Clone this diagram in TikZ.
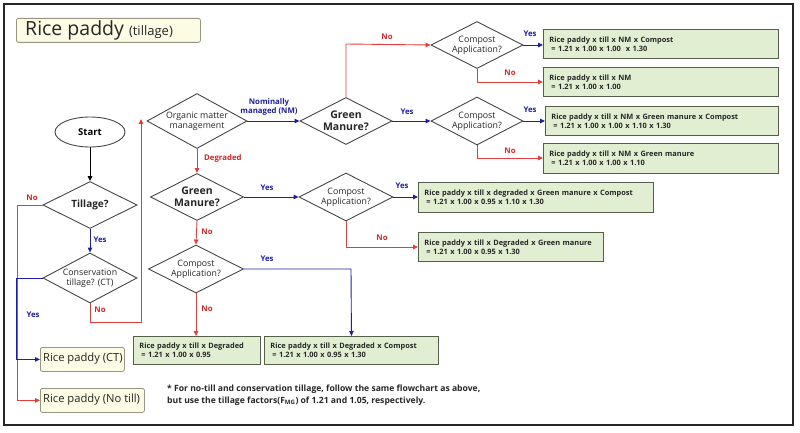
\documentclass[tikz,border=0pt]{standalone}
\usepackage{fontspec}
\setmainfont{Open Sans}
\usetikzlibrary{shapes.geometric,arrows.meta}
\definecolor{lred}{RGB}{226,60,60}
\definecolor{tred}{RGB}{215,35,35}
\definecolor{lblue}{RGB}{30,30,165}
\definecolor{gfill}{RGB}{225,238,210}
\definecolor{gdraw}{RGB}{85,95,75}
\definecolor{yfill}{RGB}{252,251,228}
\definecolor{ydraw}{RGB}{150,150,130}
\definecolor{ddraw}{RGB}{70,70,70}
\begin{document}
\begin{tikzpicture}[x=1pt,y=-1pt,
  dec/.style={diamond,draw=ddraw,line width=0.9pt,inner sep=0pt,aspect=2,align=center,
    font=\fontsize{8.8}{10}\selectfont,text=black!85},
  gmdec/.style={dec,font=\fontsize{10.5}{12.5}\selectfont\bfseries},
  resbox/.style={draw=gdraw,fill=gfill,line width=0.9pt,anchor=north west,align=left,
    inner xsep=6pt,inner ysep=0pt,font=\fontsize{7.4}{9}\selectfont\bfseries,text=black!85},
  ybox/.style={draw=ydraw,fill=yfill,line width=0.8pt,rounded corners=2pt,anchor=north west,
    inner sep=0pt,text=black!85},
  ra/.style={draw=lred,line width=0.9pt,-{Triangle[length=5pt,width=4.5pt]}},
  ba/.style={draw=lblue,line width=0.9pt,-{Triangle[length=5pt,width=4.5pt]}},
  ka/.style={draw=black,line width=0.9pt,-{Triangle[length=5pt,width=4.5pt]}},
  nol/.style={text=tred,font=\fontsize{7.8}{9}\selectfont\bfseries,inner sep=0pt},
  yesl/.style={text=lblue,font=\fontsize{7.8}{9}\selectfont\bfseries,inner sep=0pt}]
\useasboundingbox (0,0) rectangle (800,433);
\draw[line width=2pt,black!85] (4,4) rectangle (793,425);
% title
\node[ybox,minimum width=184pt,minimum height=24pt] (title) at (16,18) {};
\node[anchor=west,inner sep=0pt,text=black!85] (titletxt) at (25,30)
  {\fontsize{19.5}{22}\selectfont Rice paddy\ \fontsize{13}{15}\selectfont(tillage)};
% decisions
\node[draw=ddraw,line width=0.9pt,ellipse,minimum width=70pt,minimum height=30pt,inner sep=0pt,
  font=\fontsize{9.5}{10}\selectfont\bfseries] (start) at (90,132) {Start};
\node[dec,font=\fontsize{10}{11}\selectfont\bfseries,minimum width=94pt,minimum height=47pt] (till) at (90,205) {Tillage?};
\node[dec,minimum width=94pt,minimum height=50pt] (ct) at (90,278) {Conservation\\tillage? (CT)};
\node[dec,minimum width=100pt,minimum height=55pt] (omm) at (197,121) {Organic matter\\management};
\node[gmdec,minimum width=92pt,minimum height=47pt] (gm1) at (346,121) {Green\\Manure?};
\node[dec,minimum width=92pt,minimum height=47pt] (cp1) at (477,45) {Compost\\Application?};
\node[dec,minimum width=92pt,minimum height=48pt] (cp2) at (477,121) {Compost\\Application?};
\node[gmdec,minimum width=93pt,minimum height=47pt] (gm2) at (197,197) {Green\\Manure?};
\node[dec,minimum width=94pt,minimum height=48pt] (cp3) at (346,197) {Compost\\Application?};
\node[dec,minimum width=95pt,minimum height=48pt] (cp4) at (196,269) {Compost\\Application?};
% result boxes
\node[resbox,minimum width=235pt,minimum height=29pt,text width=223pt] (b1) at (543,29)
  {Rice paddy x till x NM x Compost\\\hspace*{2pt}= 1.21 x 1.00 x 1.00\ \ x 1.30};
\node[resbox,minimum width=235pt,minimum height=29pt,text width=223pt] (b2) at (543,67)
  {Rice paddy x till x NM\\\hspace*{2pt}= 1.21 x 1.00 x 1.00};
\node[resbox,minimum width=233pt,minimum height=29pt,text width=221pt] (b3) at (545,106)
  {Rice paddy x till x NM x Green manure x Compost\\\hspace*{2pt}= 1.21 x 1.00 x 1.00 x 1.10 x 1.30};
\node[resbox,minimum width=235pt,minimum height=30pt,text width=223pt] (b4) at (543,143)
  {Rice paddy x till x NM x Green manure\\\hspace*{2pt}= 1.21 x 1.00 x 1.00 x 1.10};
\node[resbox,minimum width=235pt,minimum height=30pt,text width=223pt] (b5) at (418,182)
  {Rice paddy x till x degraded x Green manure x Compost\\\hspace*{2pt}= 1.21 x 1.00 x 0.95 x 1.10 x 1.30};
\node[resbox,minimum width=185pt,minimum height=29pt,text width=173pt] (b6) at (418,232)
  {Rice paddy x till x Degraded x Green manure\\\hspace*{2pt}= 1.21 x 1.00 x 0.95 x 1.30};
\node[resbox,minimum width=127pt,minimum height=28pt,text width=115pt] (b7) at (133,336)
  {Rice paddy x till x Degraded\\\hspace*{2pt}= 1.21 x 1.00 x 0.95};
\node[resbox,minimum width=174pt,minimum height=28pt,text width=162pt] (b8) at (264,336)
  {Rice paddy x till x Degraded x Compost\\\hspace*{2pt}= 1.21 x 1.00 x 0.95 x 1.30};
\node[ybox,minimum width=84pt,minimum height=24pt] (rct) at (40,347) {};
\node[anchor=west,inner sep=0pt,font=\fontsize{11.2}{12}\selectfont,text=black!85] (rcttxt) at (43,359) {Rice paddy (CT)};
\node[ybox,minimum width=104pt,minimum height=24pt] (rnt) at (40,388) {};
\node[anchor=west,inner sep=0pt,font=\fontsize{11.2}{12}\selectfont,text=black!85] (rnttxt) at (43,400) {Rice paddy (No till)};
% footnote
\node[anchor=west,align=left,inner sep=0pt,font=\fontsize{8.6}{11.5}\selectfont\bfseries,text=black!85] (foot) at (167,395)
  {* For no-till and conservation tillage, follow the same flowchart as above,\\
   but use the tillage factors(F\textsubscript{MG}) of 1.21 and 1.05, respectively.};
% coordinates
\coordinate (tnl) at (17.5,205);
\coordinate (cyl) at (16.3,278);
\coordinate (cnb) at (90,322);
\coordinate (cnr) at (141,322);
\coordinate (cnt) at (141,119);
\coordinate (g1up) at (346,44);
\coordinate (c1dn) at (477,82);
\coordinate (c2dn) at (477,158);
\coordinate (c3dn) at (346,247);
\coordinate (c4r) at (351,269);
% connectors
\draw[ka] (start) -- (till);
\draw[ba] (till) -- (ct);
\draw[ra] (till.west) -- (tnl) |- (rnt.west);
\draw[ba] (ct.west) -- (cyl) |- (rct.west);
\draw[ra] (ct.south) -- (cnb) -- (cnr) -- (cnt);
\draw[ba] (omm.east) -- (gm1.west);
\draw[ra] (omm.south) -- (gm2.north);
\draw[ra] (gm1.north) -- (g1up) -- (cp1.west);
\draw[ba] (gm1.east) -- (cp2.west);
\draw[ba] (cp1.east) -- (cp1.east -| b1.west);
\draw[ra] (cp1.south) -- (c1dn) -- (c1dn -| b2.west);
\draw[ba] (cp2.east) -- (cp2.east -| b3.west);
\draw[ra] (cp2.south) -- (c2dn) -- (c2dn -| b4.west);
\draw[ba] (gm2.east) -- (cp3.west);
\draw[ba] (cp3.east) -- (cp3.east -| b5.west);
\draw[ra] (cp3.south) -- (c3dn) -- (c3dn -| b6.west);
\draw[ra] (gm2.south) -- (cp4.north);
\draw[ra] (cp4.south) -- (cp4.south |- b7.north);
\draw[ba] (cp4.east) -- (c4r) -- (b8.north);
% labels
\node[yesl] (l1) at (100,240) {Yes};
\node[nol] (l2) at (32,198) {No};
\node[yesl] (l3) at (33,315) {Yes};
\node[nol] (l4) at (100,310) {No};
\node[yesl,align=center,font=\fontsize{7.8}{9.5}\selectfont\bfseries] (l5) at (269,107) {Nominally\\managed (NM)};
\node[nol,anchor=west] (l6) at (204,158) {Degraded};
\node[nol] (l7) at (387,37) {No};
\node[yesl] (l8) at (407,112) {Yes};
\node[yesl] (l9) at (530,34) {Yes};
\node[nol] (l10) at (510,73) {No};
\node[yesl] (l11) at (530,110) {Yes};
\node[nol] (l12) at (510,151) {No};
\node[yesl] (l13) at (267,188) {Yes};
\node[yesl] (l14) at (402,186) {Yes};
\node[nol] (l15) at (382,238) {No};
\node[nol] (l16) at (207,232) {No};
\node[nol] (l17) at (207,309) {No};
\node[yesl] (l18) at (267,259) {Yes};
\end{tikzpicture}
\end{document}
